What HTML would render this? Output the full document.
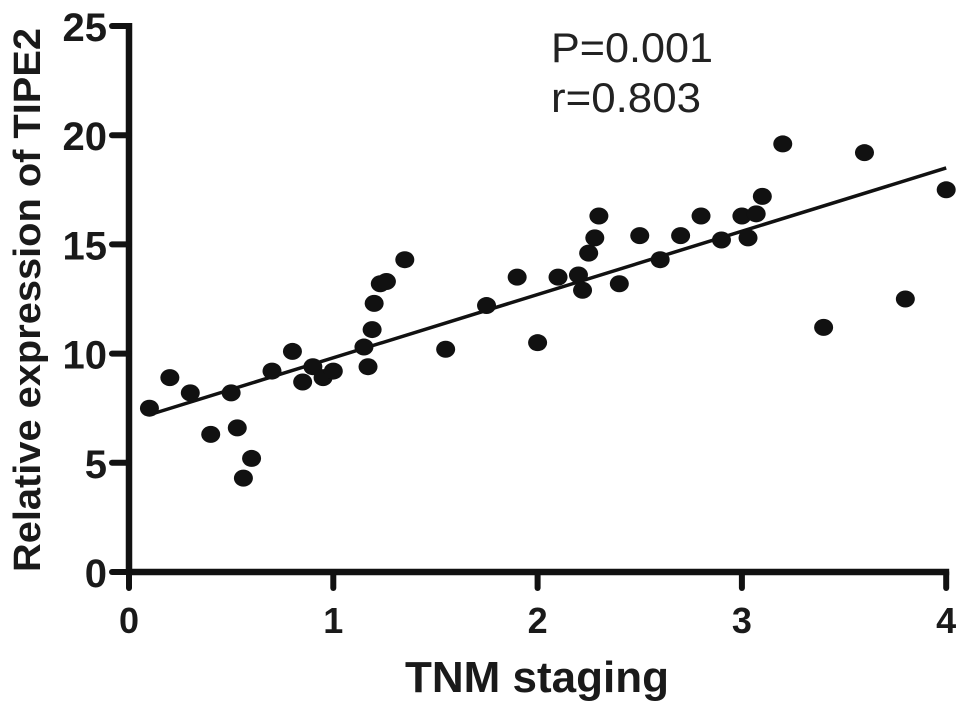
<!DOCTYPE html>
<html><head><meta charset="utf-8"><style>
html,body{margin:0;padding:0;background:#fff;}
svg{display:block;font-family:"Liberation Sans",Arial,sans-serif;}
</style></head><body>
<svg id="chart" width="969" height="715" viewBox="0 0 969 715" xmlns="http://www.w3.org/2000/svg">
<g id="axes"></g>
<g id="marks"></g>
<text x="551" y="62" font-size="42" fill="#222" textLength="162" lengthAdjust="spacingAndGlyphs">P=0.001</text>
<text x="551" y="112" font-size="42" fill="#222" textLength="150" lengthAdjust="spacingAndGlyphs">r=0.803</text>
<text x="537" y="692" font-size="44" font-weight="bold" text-anchor="middle" fill="#1a1a1a">TNM staging</text>
<text transform="translate(40,300) rotate(-90)" font-size="38" font-weight="bold" text-anchor="middle" fill="#1a1a1a" textLength="544" lengthAdjust="spacingAndGlyphs">Relative expression of TIPE2</text>
</svg>
<script>
const xVals=[0.1,0.2,0.3,0.4,0.5,0.53,0.56,0.6,0.7,0.8,0.85,0.9,0.95,1.0,1.15,1.17,1.19,1.2,1.23,1.26,1.35,1.55,1.75,1.9,2.0,2.1,2.2,2.22,2.25,2.28,2.3,2.4,2.5,2.6,2.7,2.8,2.9,3.0,3.03,3.07,3.1,3.2,3.4,3.6,3.8,4.0];
const yVals=[7.5,8.9,8.2,6.3,8.2,6.6,4.3,5.2,9.2,10.1,8.7,9.4,8.9,9.2,10.3,9.4,11.1,12.3,13.2,13.3,14.3,10.2,12.2,13.5,10.5,13.5,13.6,12.9,14.6,15.3,16.3,13.2,15.4,14.3,15.4,16.3,15.2,16.3,15.3,16.4,17.2,19.6,11.2,19.2,12.5,17.5];
const xTicks=[0,1,2,3,4];
const yTicks=[0,5,10,15,20,25];
const fitLine=[[0.1,7.2],[4.0,18.5]];
const X=v=>129+v*204.3;
const Y=v=>572-v*21.84;
const NS="http://www.w3.org/2000/svg";
function mk(tag,attrs,parent){const e=document.createElementNS(NS,tag);for(const k in attrs)e.setAttribute(k,attrs[k]);parent.appendChild(e);return e;}
const ax=document.getElementById('axes');
let l=mk('line',{x1:X(0)-3,y1:Y(0),x2:X(4)+3,y2:Y(0),stroke:'#111','stroke-width':6.5},ax);


l=mk('line',{x1:X(0),y1:Y(0)+3,x2:X(0),y2:Y(25)-3,stroke:'#111','stroke-width':6.5},ax);


xTicks.forEach(t=>{
  const tk=mk('line',{x1:X(t),y1:Y(0),x2:X(t),y2:Y(0)+16,stroke:'#111','stroke-width':6,'stroke-linecap':'round'},ax);
  
  
  const tx=mk('text',{x:X(t),y:633,'font-size':36,'font-weight':'bold','text-anchor':'middle',fill:'#1a1a1a'},ax);
  tx.textContent=t;
  
  
});
yTicks.forEach(t=>{
  const tk=mk('line',{x1:X(0)-17,y1:Y(t),x2:X(0),y2:Y(t),stroke:'#111','stroke-width':6,'stroke-linecap':'round'},ax);
  
  
  const tx=mk('text',{x:107,y:Y(t)+15,'font-size':40,'font-weight':'bold','text-anchor':'end',fill:'#1a1a1a'},ax);
  tx.textContent=t;
  
  
});
const mg=document.getElementById('marks');
const fl=mk('line',{x1:X(fitLine[0][0]),y1:Y(fitLine[0][1]),x2:X(fitLine[1][0]),y2:Y(fitLine[1][1]),stroke:'#111','stroke-width':3.5},mg);


xVals.forEach((x,i)=>{
  const c=mk('ellipse',{cx:X(x),cy:Y(yVals[i]),rx:9.5,ry:8.5,fill:'#111'},mg);
  
  
});
</script>
</body></html>
